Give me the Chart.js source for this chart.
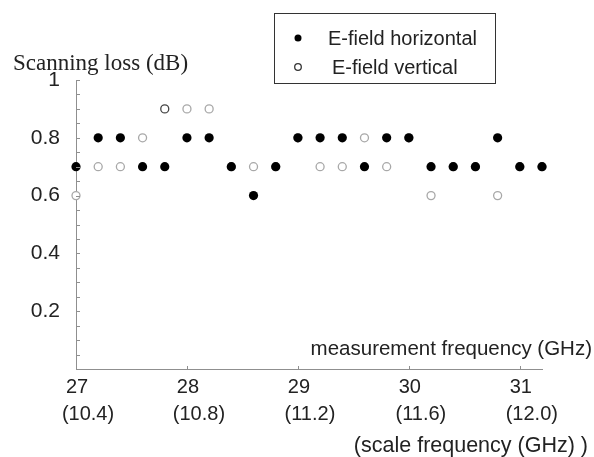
<!DOCTYPE html>
<html>
<head>
<meta charset="utf-8">
<script src="https://cdn.jsdelivr.net/npm/chart.js@4"></script>
<style>
  html, body { margin: 0; padding: 0; background: #fff; }
  #wrap { width: 594px; height: 457px; position: relative; }
</style>
</head>
<body>
<div id="wrap"><canvas id="lossChart"></canvas></div>
<script>
// measurement frequencies (GHz), every 0.2 GHz
const freqs = [27.0, 27.2, 27.4, 27.6, 27.8, 28.0, 28.2, 28.4, 28.6, 28.8, 29.0,
  29.2, 29.4, 29.6, 29.8, 30.0, 30.2, 30.4, 30.6, 30.8, 31.0, 31.2];
const horizontalLoss = [0.7, 0.8, 0.8, 0.7, 0.7, 0.8, 0.8, 0.7, 0.6, 0.7, 0.8,
  0.8, 0.8, 0.7, 0.8, 0.8, 0.7, 0.7, 0.7, 0.8, 0.7, 0.7];
const verticalLoss = [0.6, 0.7, 0.7, 0.8, 0.9, 0.9, 0.9, 0.7, 0.7, 0.7, 0.8,
  0.7, 0.7, 0.8, 0.7, 0.8, 0.6, 0.7, 0.7, 0.6, 0.7, 0.7];
const measTicks = [27, 28, 29, 30, 31];
const scaleTicks = ['(10.4)', '(10.8)', '(11.2)', '(11.6)', '(12.0)'];
const yTickLabels = ['0.2', '0.4', '0.6', '0.8', '1'];

const SANS = '"Liberation Sans", Arial, sans-serif';
const SERIF = '"Liberation Serif", "Times New Roman", serif';
const AXIS = '#8f8f8f';

// small inside tick marks, axis captions and the boxed legend
const extras = {
  id: 'extras',
  afterDraw(chart) {
    const ctx = chart.ctx;
    const ya = chart.scales.y;
    const xa = chart.scales.x;
    const area = chart.chartArea;
    ctx.save();
    ctx.strokeStyle = AXIS;
    ctx.lineWidth = 1;
    ya.ticks.forEach(t => {
      const py = Math.round(ya.getPixelForValue(t.value)) + 0.5;
      ctx.beginPath();
      ctx.moveTo(area.left, py);
      ctx.lineTo(area.left + 4, py);
      ctx.stroke();
    });
    xa.ticks.forEach(t => {
      const px = Math.round(xa.getPixelForValue(t.value)) + 0.5;
      ctx.beginPath();
      ctx.moveTo(px, area.bottom);
      ctx.lineTo(px, area.bottom - 3);
      ctx.stroke();
    });

    ctx.fillStyle = '#222';
    ctx.textBaseline = 'middle';
    ctx.font = '23px ' + SERIF;
    ctx.textAlign = 'left';
    ctx.fillText('Scanning loss (dB)', 13, 64);
    ctx.font = '20.5px ' + SANS;
    ctx.textAlign = 'right';
    ctx.fillText('measurement frequency (GHz)', 592, 349);
    ctx.font = '21.5px ' + SANS;
    ctx.fillText('(scale frequency (GHz) )', 588, 446);

    // legend box
    ctx.strokeStyle = '#333';
    ctx.strokeRect(274.5, 13.5, 221, 70);
    const ds = chart.data.datasets;
    ctx.font = '20px ' + SANS;
    ctx.textAlign = 'left';
    ctx.fillStyle = '#000';
    ctx.beginPath();
    ctx.arc(298, 38, 3.5, 0, Math.PI * 2);
    ctx.fill();
    ctx.fillStyle = '#222';
    ctx.fillText(ds[0].label, 328, 39);
    ctx.strokeStyle = '#333';
    ctx.lineWidth = 1.3;
    ctx.beginPath();
    ctx.arc(298, 67, 3.3, 0, Math.PI * 2);
    ctx.stroke();
    ctx.fillText(ds[1].label, 332, 68);
    ctx.restore();
  }
};

new Chart(document.getElementById('lossChart'), {
  type: 'scatter',
  data: {
    datasets: [
      {
        label: 'E-field horizontal',
        data: freqs.map((f, i) => ({ x: f, y: horizontalLoss[i] })),
        backgroundColor: '#000',
        borderWidth: 0,
        pointRadius: 4.6,
        clip: false,
      },
      {
        label: 'E-field vertical',
        data: freqs.map((f, i) => ({ x: f, y: verticalLoss[i] })),
        backgroundColor: '#fff',
        borderColor: ctx => (ctx.dataIndex === 4 ? '#444' : '#a8a8a8'),
        borderWidth: 1.3,
        pointRadius: 4,
        clip: false,
      },
    ],
  },
  options: {
    responsive: true,
    maintainAspectRatio: false,
    animation: false,
    layout: { padding: { top: 80, right: 52, left: 0, bottom: 0 } },
    plugins: {
      legend: { display: false },
      tooltip: { enabled: false },
    },
    scales: {
      x: {
        type: 'linear',
        min: 27,
        max: 31.2,
        grid: { display: false, drawTicks: false },
        border: { display: true, color: AXIS, width: 1 },
        ticks: {
          stepSize: 1,
          includeBounds: false,
          autoSkip: false,
          maxRotation: 0,
          padding: 6,
          labelOffset: 1,
          color: '#222',
          font: { family: SANS, size: 20 },
          callback: v => (measTicks.includes(v) ? String(v) : ''),
        },
        afterFit: s => { s.height = 30; },
      },
      x2: {
        type: 'linear',
        position: 'bottom',
        min: 27,
        max: 31.2,
        grid: { display: false, drawTicks: false },
        border: { display: false },
        ticks: {
          stepSize: 1,
          includeBounds: false,
          autoSkip: false,
          maxRotation: 0,
          padding: 3,
          labelOffset: 12,
          color: '#222',
          font: { family: SANS, size: 20 },
          callback: v => {
            const i = measTicks.indexOf(v);
            return i >= 0 ? scaleTicks[i] : '';
          },
        },
        afterFit: s => { s.height = 58; },
      },
      y: {
        min: 0,
        max: 1,
        grid: { display: false, drawTicks: false },
        border: { display: true, color: AXIS, width: 1 },
        ticks: {
          stepSize: 0.05,
          autoSkip: false,
          padding: 16,
          color: '#222',
          font: { family: SANS, size: 21 },
          callback: v => {
            const k = Math.round(v * 100);
            if (k === 0 || k % 20 !== 0) return '';
            return yTickLabels[k / 20 - 1];
          },
        },
        afterFit: s => { s.width = 76; },
      },
    },
  },
  plugins: [extras],
});
</script>
</body>
</html>
